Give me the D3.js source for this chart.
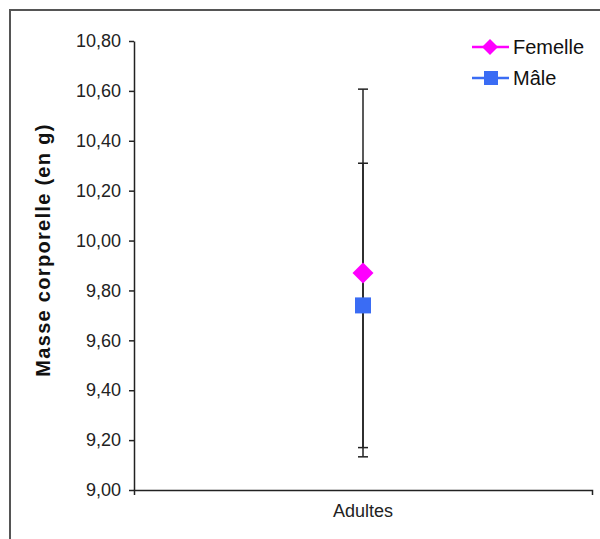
<!DOCTYPE html>
<html><head><meta charset="utf-8">
<script src="https://cdn.jsdelivr.net/npm/d3@7"></script>
<style>body{margin:0;background:#fff}svg{display:block}text{font-family:"Liberation Sans",Arial,sans-serif}</style>
</head><body>
<svg id="c" width="600" height="539"></svg>
<script>
const categories = ["Adultes"];
const seriesNames = ["Femelle", "Mâle"];
const seriesColors = ["#ff00ff", "#3a6cf4"];
const means = [9.87, 9.74];
const errors = [0.737, 0.57];
const yTicks = [9.0, 9.2, 9.4, 9.6, 9.8, 10.0, 10.2, 10.4, 10.6, 10.8];
const yTitle = "Masse corporelle (en g)";

const svg = d3.select("#c");
svg.append("rect").attr("x",10).attr("y",10).attr("width",620).attr("height",560)
  .attr("fill","#fff").attr("stroke","#555").attr("stroke-width",2);

const x = d3.scaleBand().domain(categories).range([134, 592]);
const y = d3.scaleLinear().domain([9, 10.8]).range([490, 41]);

const fmt = d => d3.format(".2f")(d).replace(".", ",");

const ya = svg.append("g").attr("transform","translate(134,0)")
  .call(d3.axisLeft(y).tickValues(yTicks).tickFormat(fmt).tickSizeInner(5).tickSizeOuter(0).tickPadding(8));
ya.selectAll("text").attr("font-size",18).attr("fill","#222").attr("font-family","Liberation Sans, Arial, sans-serif");
ya.selectAll("line,path").attr("stroke","#222").attr("stroke-width",1.5);

const xa = svg.append("g").attr("transform","translate(0,490)")
  .call(d3.axisBottom(x).tickSizeInner(0).tickSizeOuter(5).tickPadding(14));
xa.selectAll("text").attr("font-size",18).attr("fill","#222").attr("font-family","Liberation Sans, Arial, sans-serif");
xa.selectAll("line,path").attr("stroke","#222").attr("stroke-width",1.5);

svg.append("text").attr("transform","translate(50,250) rotate(-90)")
  .attr("text-anchor","middle").attr("font-weight","bold").attr("font-size",20)
  .attr("letter-spacing",1.3).attr("fill","#111")
  .text(yTitle);

const cx = x(categories[0]) + x.bandwidth()/2;
// error bars
means.forEach((m,i) => {
  const g = svg.append("g").attr("stroke","#222").attr("stroke-width",1.5);
  g.append("line").attr("x1",cx).attr("x2",cx).attr("y1",y(m+errors[i])).attr("y2",y(m-errors[i]));
  [m+errors[i], m-errors[i]].forEach(v => g.append("line").attr("x1",cx-5).attr("x2",cx+5).attr("y1",y(v)).attr("y2",y(v)));
});
// markers
const diamond = s => `M0,${-s}L${s},0L0,${s}L${-s},0Z`;
svg.append("path").attr("d",diamond(10.5)).attr("transform",`translate(${cx},${y(means[0])})`).attr("fill",seriesColors[0]);
svg.append("rect").attr("x",cx-8).attr("y",y(means[1])-8).attr("width",16).attr("height",16).attr("fill",seriesColors[1]);

// legend
const ly = [47, 78];
seriesNames.forEach((n,i) => {
  svg.append("line").attr("x1",472).attr("x2",509).attr("y1",ly[i]).attr("y2",ly[i]).attr("stroke",seriesColors[i]).attr("stroke-width",2.5);
  if (i===0) svg.append("path").attr("d",diamond(8)).attr("transform",`translate(490,${ly[i]})`).attr("fill",seriesColors[i]);
  else svg.append("rect").attr("x",484).attr("y",ly[i]-7).attr("width",14).attr("height",14).attr("fill",seriesColors[i]);
  svg.append("text").attr("x",513).attr("y",ly[i]+7).attr("font-size",20).attr("fill","#111").text(n);
});
</script>
</body></html>
